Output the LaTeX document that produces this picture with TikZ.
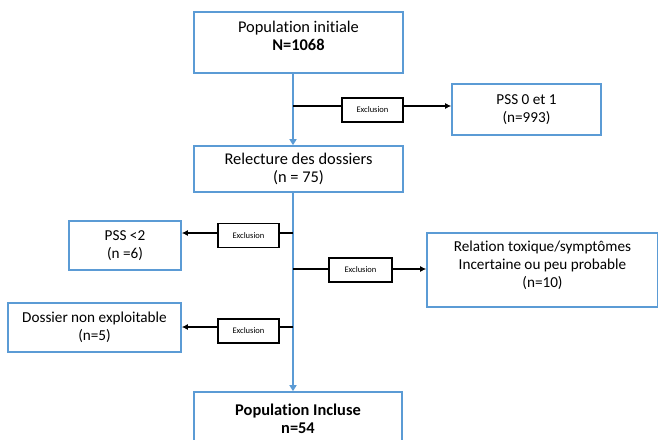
\documentclass[tikz,border=0pt]{standalone}
\usepackage{fontspec}
\setmainfont{Carlito}[Ligatures={NoCommon}]
\usetikzlibrary{arrows.meta}
\definecolor{boxblue}{HTML}{5B9BD5}

\begin{document}
\begin{tikzpicture}[x=1pt,y=-1pt,
    bluebox/.style={draw=boxblue,line width=1.6pt,align=center,inner sep=0pt,
        font=\fontsize{16.4}{18}\selectfont},
    sidebox/.style={bluebox,font=\fontsize{15.2}{18}\selectfont},
    exclbox/.style={draw=black,line width=1.3pt,inner sep=0pt,minimum width=61pt,minimum height=24pt,
        font=\fontsize{8.5}{9}\selectfont},
    flow/.style={draw=boxblue,line width=1.5pt,-{Triangle[length=6pt,width=7pt]}},
    branch/.style={draw=black,line width=1.3pt},
    excl/.style={draw=black,line width=1.3pt,-{Latex[length=6pt,width=6pt]}}]
        \useasboundingbox (0,0) rectangle (658,439);
        % boxes
        \node[bluebox,minimum width=209pt,minimum height=61pt,text depth=14pt] (init) at (298.5,42.5) {Population initiale\\\textbf{N=1068}};
        \node[bluebox,minimum width=209pt,minimum height=46pt] (relect) at (298.5,169) {Relecture des dossiers\\(n = 75)};
        \node[bluebox,minimum width=208pt,minimum height=54pt] (incluse) at (298,419) {\textbf{Population Incluse}\\\textbf{n=54}};
        \node[sidebox,minimum width=149pt,minimum height=51pt] (pss01) at (526.5,109.5) {PSS 0 et 1\\(n=993)};
        \node[sidebox,minimum width=112pt,minimum height=49pt] (pss2) at (125,245.5) {PSS <2\\(n =6)};
        \node[sidebox,minimum width=173pt,minimum height=49pt] (dossier) at (94.5,327.5) {Dossier non exploitable\\(n=5)};
        \node[sidebox,minimum width=231pt,minimum height=74pt,text depth=12pt] (relation) at (542.5,270) {Relation toxique/symptômes\\Incertaine ou peu probable\\(n=10)};
        % exclusion boxes
        \node[exclbox] (excl1) at (372.5,110) {Exclusion};
        \node[exclbox] (excl2) at (248.5,235.5) {Exclusion};
        \node[exclbox,minimum width=63pt] (excl3) at (360.5,270) {Exclusion};
        \node[exclbox] (excl4) at (248.5,331) {Exclusion};
        % main spine
        \coordinate (spine) at (293,0);
        \coordinate (b1) at (293,106);
        \coordinate (b2) at (293,233);
        \coordinate (b3) at (293,269);
        \coordinate (b4) at (293,327);
        \draw[flow] (init.south -| spine) -- (relect.north -| spine);
        \draw[flow] (relect.south -| spine) -- (incluse.north -| spine);
        % exclusions
        \draw[branch] (b1) -- (b1 -| excl1.west);
        \draw[excl] (b1 -| excl1.east) -- (b1 -| pss01.west);
        \draw[branch] (b2) -- (b2 -| excl2.east);
        \draw[excl] (b2 -| excl2.west) -- (b2 -| pss2.east);
        \draw[branch] (b3) -- (b3 -| excl3.west);
        \draw[excl] (b3 -| excl3.east) -- (b3 -| relation.west);
        \draw[branch] (b4) -- (b4 -| excl4.east);
        \draw[excl] (b4 -| excl4.west) -- (b4 -| dossier.east);
\end{tikzpicture}
\end{document}
